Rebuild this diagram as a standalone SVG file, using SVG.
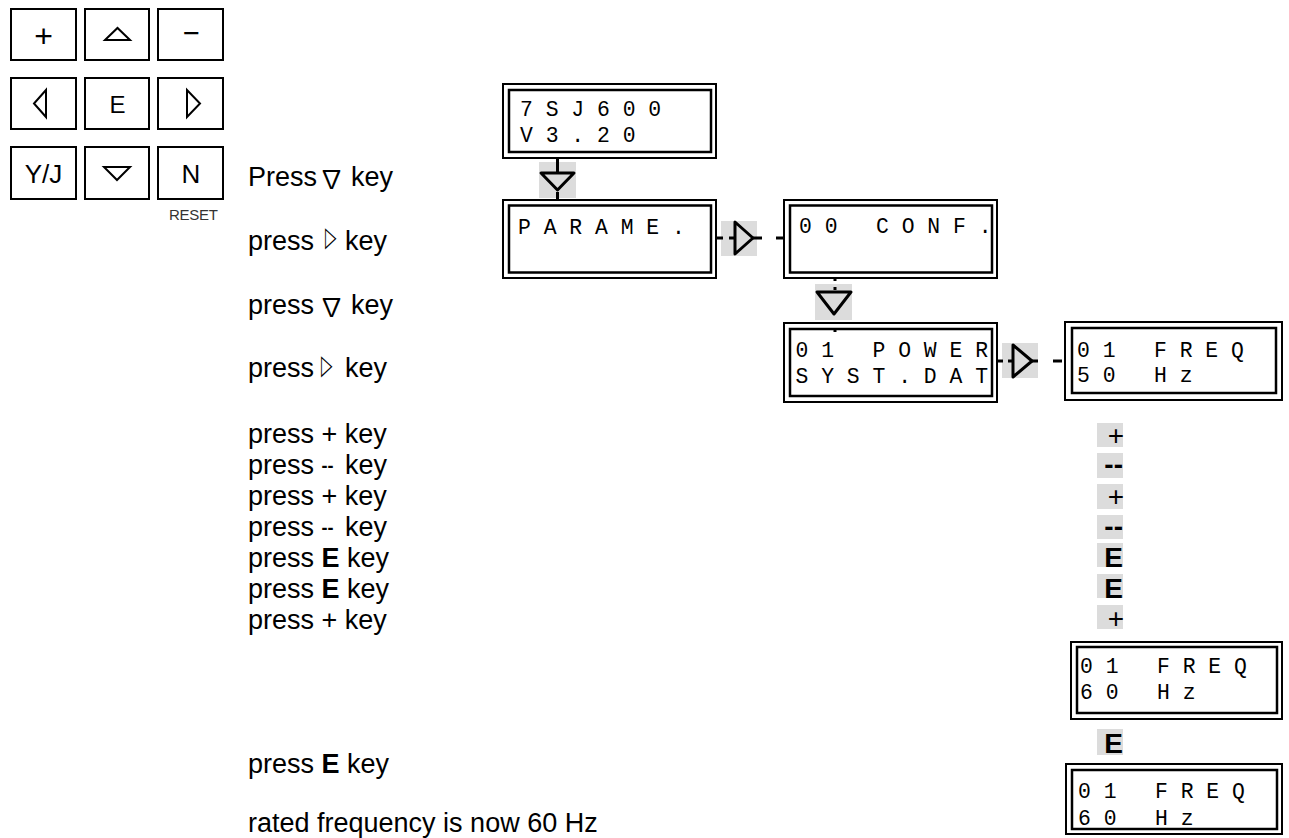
<svg xmlns="http://www.w3.org/2000/svg" width="1289" height="838" viewBox="0 0 1289 838">
<style>
.key{fill:#fff;stroke:#000;stroke-width:2}
.kt{font-family:"Liberation Sans",Arial,sans-serif;text-anchor:middle;fill:#000}
.ktri{fill:none;stroke:#000;stroke-width:2;stroke-linejoin:miter}
.lo{fill:#fff;stroke:#000;stroke-width:2}
.li{fill:none;stroke:#000;stroke-width:2.5}
.mono{font-family:"Liberation Mono","DejaVu Sans Mono",monospace;font-size:21.4px;white-space:pre;fill:#000}
.lbl{font-family:"Liberation Sans",Arial,sans-serif;font-size:27px;fill:#000;white-space:pre}
.sym{font-family:"DejaVu Sans",sans-serif;fill:#000}
.nab{font-family:"Noto Sans CJK JP","DejaVu Sans",sans-serif;fill:#000}
.b{font-weight:bold}
.hl{fill:#dcdcdc}
.tri{fill:none;stroke:#000;stroke-width:3;stroke-linejoin:round}
.ln{stroke:#000;stroke-width:3;fill:none}
.rk{font-family:"Liberation Sans",Arial,sans-serif;font-size:28px;text-anchor:end;fill:#000}
</style>

<!-- keypad -->
<g id="key-plus"><rect class="key" x="11" y="9" width="65" height="51"/><text class="kt" x="43.5" y="47" font-size="32">+</text></g>
<g id="key-up"><rect class="key" x="85" y="9" width="64" height="51"/><polygon class="ktri" points="105,40 130,40 117.5,28"/></g>
<g id="key-minus"><rect class="key" x="158" y="9" width="65" height="51"/><text class="kt" x="191.5" y="43" font-size="29">−</text></g>
<g id="key-left"><rect class="key" x="11" y="78" width="65" height="51"/><polygon class="ktri" points="46,90 46,117 34,103.5"/></g>
<g id="key-e"><rect class="key" x="85" y="78" width="64" height="51"/><text class="kt" x="117.5" y="113" font-size="24">E</text></g>
<g id="key-right"><rect class="key" x="158" y="78" width="65" height="51"/><polygon class="ktri" points="187,90 187,117 200,103.5"/></g>
<g id="key-yj"><rect class="key" x="11" y="147" width="65" height="52"/><text class="kt" x="43.5" y="183" font-size="26">Y/J</text></g>
<g id="key-down"><rect class="key" x="85" y="147" width="64" height="52"/><polygon class="ktri" points="104,167 130,167 117,180"/></g>
<g id="key-n"><rect class="key" x="158" y="147" width="65" height="52"/><text class="kt" x="191" y="183" font-size="26">N</text></g>
<text id="reset" x="169" y="220" font-family="Liberation Sans,Arial,sans-serif" font-size="15" fill="#333" textLength="49">RESET</text>

<!-- instructions -->
<g id="steps">
<text class="lbl" y="186"><tspan x="248">Press</tspan><tspan x="351">key</tspan></text>
<text class="nab" x="331.5" y="188" font-size="25" text-anchor="middle">∇</text>
<text class="lbl" y="250"><tspan x="248">press</tspan><tspan x="345">key</tspan></text>
<text class="sym" font-size="24" transform="translate(325,246) scale(0.62,1.15)">▷</text>
<text class="lbl" y="314"><tspan x="248">press</tspan><tspan x="351">key</tspan></text>
<text class="nab" x="331.5" y="316" font-size="25" text-anchor="middle">∇</text>
<text class="lbl" y="377"><tspan x="248">press</tspan><tspan x="345">key</tspan></text>
<text class="sym" font-size="24" transform="translate(321,374) scale(0.62,1.15)">▷</text>
<text class="lbl" x="248" y="443">press + key</text>
<text class="lbl" y="474"><tspan x="248">press </tspan><tspan class="b" font-size="18" dy="-2">--</tspan><tspan x="345" dy="2">key</tspan></text>
<text class="lbl" x="248" y="505">press + key</text>
<text class="lbl" y="536"><tspan x="248">press </tspan><tspan class="b" font-size="18" dy="-2">--</tspan><tspan x="345" dy="2">key</tspan></text>
<text class="lbl" x="248" y="567">press <tspan class="b">E</tspan> key</text>
<text class="lbl" x="248" y="598">press <tspan class="b">E</tspan> key</text>
<text class="lbl" x="248" y="629">press + key</text>
<text class="lbl" x="248" y="773">press <tspan class="b">E</tspan> key</text>
<text class="lbl" x="248" y="832">rated frequency is now 60 Hz</text>
</g>

<!-- LCD displays -->
<g id="lcd-version"><rect class="lo" x="503" y="84" width="213" height="74"/><rect class="li" x="509" y="90" width="202" height="62"/>
<text class="mono" x="520" y="116">7 S J 6 0 0</text><text class="mono" x="520" y="142">V 3 . 2 0</text></g>
<g id="lcd-parame"><rect class="lo" x="503" y="200" width="213" height="78"/><rect class="li" x="509" y="205.5" width="202" height="67"/>
<text class="mono" x="518" y="234">P A R A M E .</text></g>
<g id="lcd-conf"><rect class="lo" x="784" y="200" width="213" height="78"/><rect class="li" x="790" y="205.5" width="202" height="67"/>
<text class="mono" x="799" y="233">0 0   C O N F .</text></g>
<g id="lcd-power"><rect class="lo" x="784" y="323" width="213" height="79"/><rect class="li" x="790" y="329" width="202" height="67"/>
<text class="mono" x="795.5" y="357">0 1   P O W E R</text><text class="mono" x="795.5" y="383">S Y S T . D A T</text></g>
<g id="lcd-freq50"><rect class="lo" x="1065" y="322" width="217" height="78"/><rect class="li" x="1072" y="328" width="204" height="65"/>
<text class="mono" x="1077" y="357">0 1   F R E Q</text><text class="mono" x="1077" y="382">5 0   H z</text></g>
<g id="lcd-freq60"><rect class="lo" x="1071" y="642" width="211" height="77"/><rect class="li" x="1077" y="647" width="200" height="66"/>
<text class="mono" x="1080" y="673">0 1   F R E Q</text><text class="mono" x="1080" y="699">6 0   H z</text></g>
<g id="lcd-freq60-stored"><rect class="lo" x="1066" y="764" width="216" height="70"/><rect class="li" x="1072" y="770" width="205" height="59"/>
<text class="mono" x="1078" y="798">0 1   F R E Q</text><text class="mono" x="1078" y="825">6 0   H z</text></g>

<!-- key presses column -->
<g id="keys-column">
<rect class="hl" x="1097" y="423" width="26" height="24"/><text class="rk" x="1124" y="445">+</text>
<rect class="hl" x="1097" y="453" width="26" height="25"/><text class="rk b" x="1123" y="474" font-size="22">--</text>
<rect class="hl" x="1097" y="484" width="26" height="25"/><text class="rk" x="1124" y="506">+</text>
<rect class="hl" x="1097" y="515" width="26" height="24"/><text class="rk b" x="1123" y="536" font-size="22">--</text>
<rect class="hl" x="1097" y="543" width="26" height="24"/><text class="rk b" x="1123" y="567">E</text>
<rect class="hl" x="1097" y="574" width="26" height="24"/><text class="rk b" x="1123" y="598">E</text>
<rect class="hl" x="1097" y="605" width="26" height="24"/><text class="rk" x="1124" y="628">+</text>
<rect class="hl" x="1097" y="729" width="26" height="26"/><text class="rk b" x="1123" y="753">E</text>
</g>

<!-- connectors -->
<g id="connectors">
<rect class="hl" x="539" y="162" width="37" height="36"/>
<line class="ln" x1="557.5" y1="158" x2="557.5" y2="173"/>
<polygon class="tri" points="541,173 574,173 557.5,190"/>
<line class="ln" x1="557.5" y1="192" x2="557.5" y2="200"/>

<rect class="hl" x="721" y="221" width="36" height="35"/>
<line class="ln" x1="716" y1="238" x2="723" y2="238"/>
<line class="ln" x1="729" y1="238" x2="735" y2="238"/>
<polygon class="tri" points="735,222 735,254 753,238"/>
<line class="ln" x1="753" y1="238" x2="762" y2="238"/>
<line class="ln" x1="776" y1="238" x2="784" y2="238"/>

<rect class="hl" x="815" y="284" width="37" height="36"/>
<line class="ln" x1="835" y1="278" x2="835" y2="281"/>
<line class="ln" x1="835" y1="287" x2="835" y2="290"/>
<polygon class="tri" points="817,292 851,292 834,314"/>
<line class="ln" x1="835" y1="328" x2="835" y2="332"/>

<rect class="hl" x="1002" y="343" width="36" height="35"/>
<line class="ln" x1="997" y1="361" x2="1003" y2="361"/>
<line class="ln" x1="1008" y1="361" x2="1013" y2="361"/>
<polygon class="tri" points="1013,345 1013,377 1032,361"/>
<line class="ln" x1="1032" y1="361" x2="1038" y2="361"/>
<line class="ln" x1="1053" y1="361" x2="1062" y2="361"/>
</g>
</svg>
